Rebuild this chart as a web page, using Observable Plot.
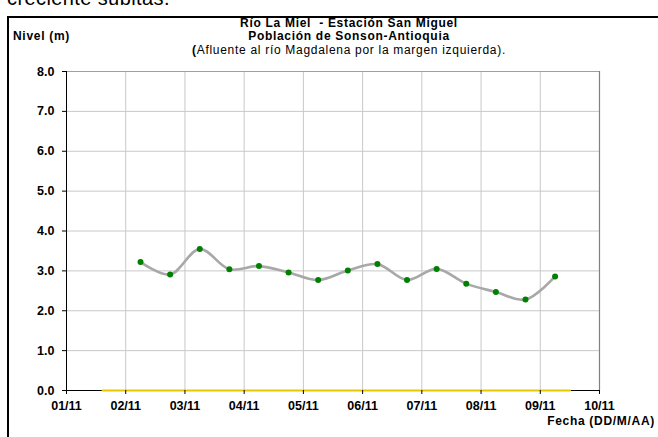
<!DOCTYPE html>
<html>
<head>
<meta charset="utf-8">
<script src="https://cdn.jsdelivr.net/npm/d3@7"></script>
<script src="https://cdn.jsdelivr.net/npm/@observablehq/plot@0.6"></script>
<style>
  html, body { margin: 0; padding: 0; background: #fff; overflow: hidden; }
  #wrap { position: relative; width: 658px; height: 437px; overflow: hidden; font-family: "Liberation Sans", Arial, sans-serif; color: #000; }
  #frame { position: absolute; left: 7px; top: 16px; width: 700px; height: 500px; border-left: 2px solid #000; border-top: 2px solid #000; }
  .t { position: absolute; white-space: nowrap; font-size: 12px; line-height: 13px; letter-spacing: 0.7px; }
  .b { font-weight: bold; }
  #chart { position: absolute; left: 0; top: 0; }
</style>
</head>
<body>
<div id="wrap">
  <div class="t" style="left:7px; top:-13px; font-size:20px; line-height:22px; letter-spacing:0.4px;">creciente súbitas.</div>
  <div id="frame"></div>
  <div id="chart"></div>
  <div class="t b" style="left:13px; top:30px;">Nivel (m)</div>
  <div class="t b" style="left:0; width:698px; text-align:center; top:17px;">Río La Miel&nbsp; - Estación San Miguel</div>
  <div class="t b" style="left:0; width:698px; text-align:center; top:30px;">Población de Sonson-Antioquia</div>
  <div class="t" style="left:0; width:698px; text-align:center; top:44px;"><b>(</b>Afluente al río Magdalena por la margen izquierda).</div>
  <div class="t b" style="right:3px; top:415px;">Fecha (DD/M/AA)</div>
</div>
<script>
// Observed level series (Nivel, m)
const fechas = [
  "2010-11-02T06:00Z", "2010-11-02T18:00Z",
  "2010-11-03T06:00Z", "2010-11-03T18:00Z",
  "2010-11-04T06:00Z", "2010-11-04T18:00Z",
  "2010-11-05T06:00Z", "2010-11-05T18:00Z",
  "2010-11-06T06:00Z", "2010-11-06T18:00Z",
  "2010-11-07T06:00Z", "2010-11-07T18:00Z",
  "2010-11-08T06:00Z", "2010-11-08T18:00Z",
  "2010-11-09T06:00Z"
];
const niveles = [3.22, 2.91, 3.55, 3.04, 3.12, 2.96, 2.77, 3.01, 3.17, 2.77, 3.05, 2.68, 2.47, 2.28, 2.86];

// Zero reference series (yellow)
const fechasRef = ["2010-11-01T14:40Z", "2010-11-09T12:00Z"];
const nivelesRef = [0, 0];

// Axis tick labels
const xTicks = ["2010-11-01", "2010-11-02", "2010-11-03", "2010-11-04", "2010-11-05",
                "2010-11-06", "2010-11-07", "2010-11-08", "2010-11-09", "2010-11-10"];
const yTicks = [0, 1, 2, 3, 4, 5, 6, 7, 8];

const data = fechas.map((f, i) => ({fecha: new Date(f), nivel: niveles[i]}));
const ref = fechasRef.map((f, i) => ({fecha: new Date(f), nivel: nivelesRef[i]}));
const xTickDates = xTicks.map(d => new Date(d + "T00:00Z"));
const fmt = d3.utcFormat("%d/%m");

const chart = Plot.plot({
  width: 658,
  height: 437,
  marginLeft: 66,
  marginRight: 59,
  marginTop: 71,
  marginBottom: 47,
  style: {fontFamily: "'Liberation Sans', Arial, sans-serif", fontSize: "12.5px", fontWeight: "bold", color: "#000", background: "transparent"},
  x: {type: "utc", domain: [xTickDates[0], xTickDates[xTickDates.length - 1]]},
  y: {domain: [0, 8]},
  marks: [
    Plot.gridX(xTickDates.slice(1, -1), {stroke: "#c8c8c8", strokeOpacity: 1}),
    Plot.gridY(yTicks.slice(1, -1), {stroke: "#c8c8c8", strokeOpacity: 1}),
    Plot.ruleY([8], {stroke: "#a0a0a0", strokeWidth: 1.2}),
    Plot.ruleX([xTickDates[xTickDates.length - 1]], {stroke: "#808080", strokeWidth: 1.2}),
    Plot.ruleX([xTickDates[0]], {stroke: "#000"}),
    Plot.ruleY([0], {stroke: "#000"}),
    Plot.line(ref, {x: "fecha", y: "nivel", stroke: "#E6C700", strokeWidth: 2.2}),
    Plot.line(data, {x: "fecha", y: "nivel", curve: "catmull-rom", stroke: "#a8a8a8", strokeWidth: 2.6}),
    Plot.dot(data, {x: "fecha", y: "nivel", fill: "#008000", r: 3}),
    Plot.axisX(xTickDates, {tickFormat: fmt, tickSize: 4, tickPadding: 7, label: null, stroke: "#000"}),
    Plot.axisY(yTicks, {tickFormat: d3.format(".1f"), tickSize: 4, tickPadding: 8, label: null, stroke: "#000"})
  ]
});
document.getElementById("chart").appendChild(chart);
</script>
</body>
</html>
